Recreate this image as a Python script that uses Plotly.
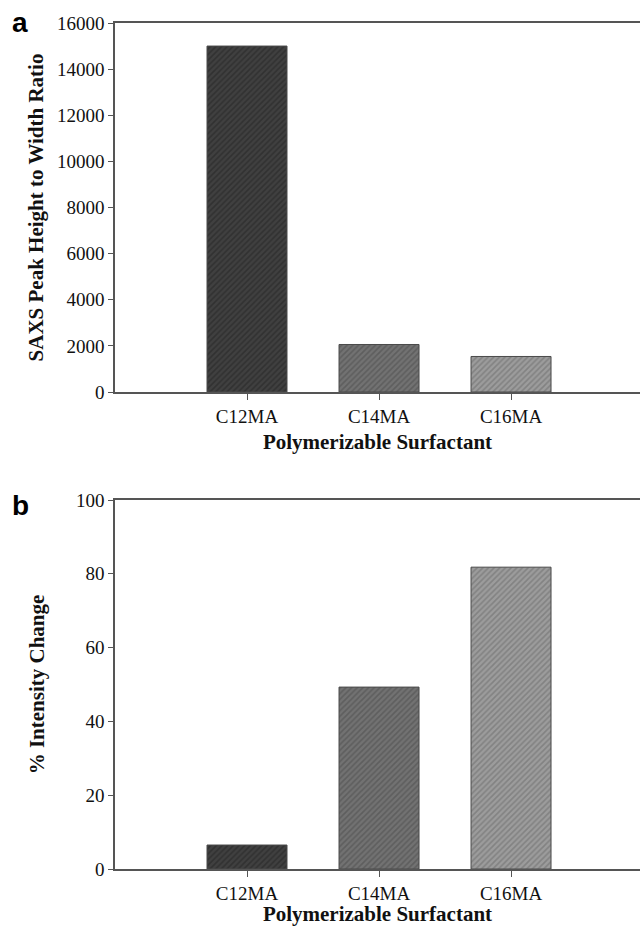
import plotly.graph_objects as go

categories = ["C12MA", "C14MA", "C16MA"]
saxs_ratio = [15000, 2060, 1540]
intensity_change = [6.5, 49.3, 81.8]

bar_bg = ["#404040", "#727272", "#9c9c9c"]
bar_fg = ["#222222", "#4a4a4a", "#686868"]

W, H = 640, 926
def py(p):
    return 1 - p / H

fig = go.Figure()

for vals, xa, ya in [(saxs_ratio, "x", "y"), (intensity_change, "x2", "y2")]:
    for i, cat in enumerate(categories):
        fig.add_trace(go.Bar(
            x=[cat], y=[vals[i]], xaxis=xa, yaxis=ya, width=0.606,
            marker=dict(color=bar_bg[i],
                        line=dict(color="#4a4a4a", width=1),
                        pattern=dict(shape="/", bgcolor=bar_bg[i], fgcolor=bar_fg[i],
                                     size=4, solidity=0.4)),
            showlegend=False,
        ))

serif = "Liberation Serif"
tickfont = dict(family=serif, size=19, color="#111")
titlefont = dict(family=serif, size=21, color="#111", weight="bold")
xdom = [115 / W, 1.0]

common_x = dict(domain=xdom, range=[-1, 2.977], type="category", showline=True,
                linecolor="#555", linewidth=1.5, mirror=True, ticks="outside",
                ticklen=6, tickcolor="#555", tickfont=tickfont, showgrid=False,
                zeroline=False, automargin=False)
common_y = dict(showline=True, linecolor="#555", linewidth=1.5, ticks="outside",
                ticklen=5, tickcolor="#555", tickfont=tickfont, showgrid=False,
                zeroline=False, automargin=False, tickformat="d")

fig.update_layout(
    width=W, height=H, margin=dict(l=0, r=0, t=0, b=0),
    paper_bgcolor="white", plot_bgcolor="white", barmode="overlay",
    xaxis=dict(common_x, anchor="y",
               title=dict(text="Polymerizable Surfactant", font=titlefont, standoff=9)),
    yaxis=dict(common_y, domain=[py(392), py(23)], range=[0, 16000], dtick=2000,
               anchor="x",
               title=dict(text="SAXS Peak Height to Width Ratio", font=titlefont, standoff=8)),
    xaxis2=dict(common_x, anchor="y2",
                title=dict(text="Polymerizable Surfactant", font=titlefont, standoff=8)),
    yaxis2=dict(common_y, domain=[py(869), py(500)], range=[0, 100], dtick=20,
                anchor="x2",
                title=dict(text="% Intensity Change", font=titlefont, standoff=26)),
    annotations=[
        dict(text="<b>a</b>", x=10 / W, y=py(22), xref="paper", yref="paper",
             xanchor="left", yanchor="middle", showarrow=False,
             font=dict(family="Liberation Sans", size=28, color="black")),
        dict(text="<b>b</b>", x=10 / W, y=py(505), xref="paper", yref="paper",
             xanchor="left", yanchor="middle", showarrow=False,
             font=dict(family="Liberation Sans", size=28, color="black")),
    ],
)

fig.write_html("out.html")
